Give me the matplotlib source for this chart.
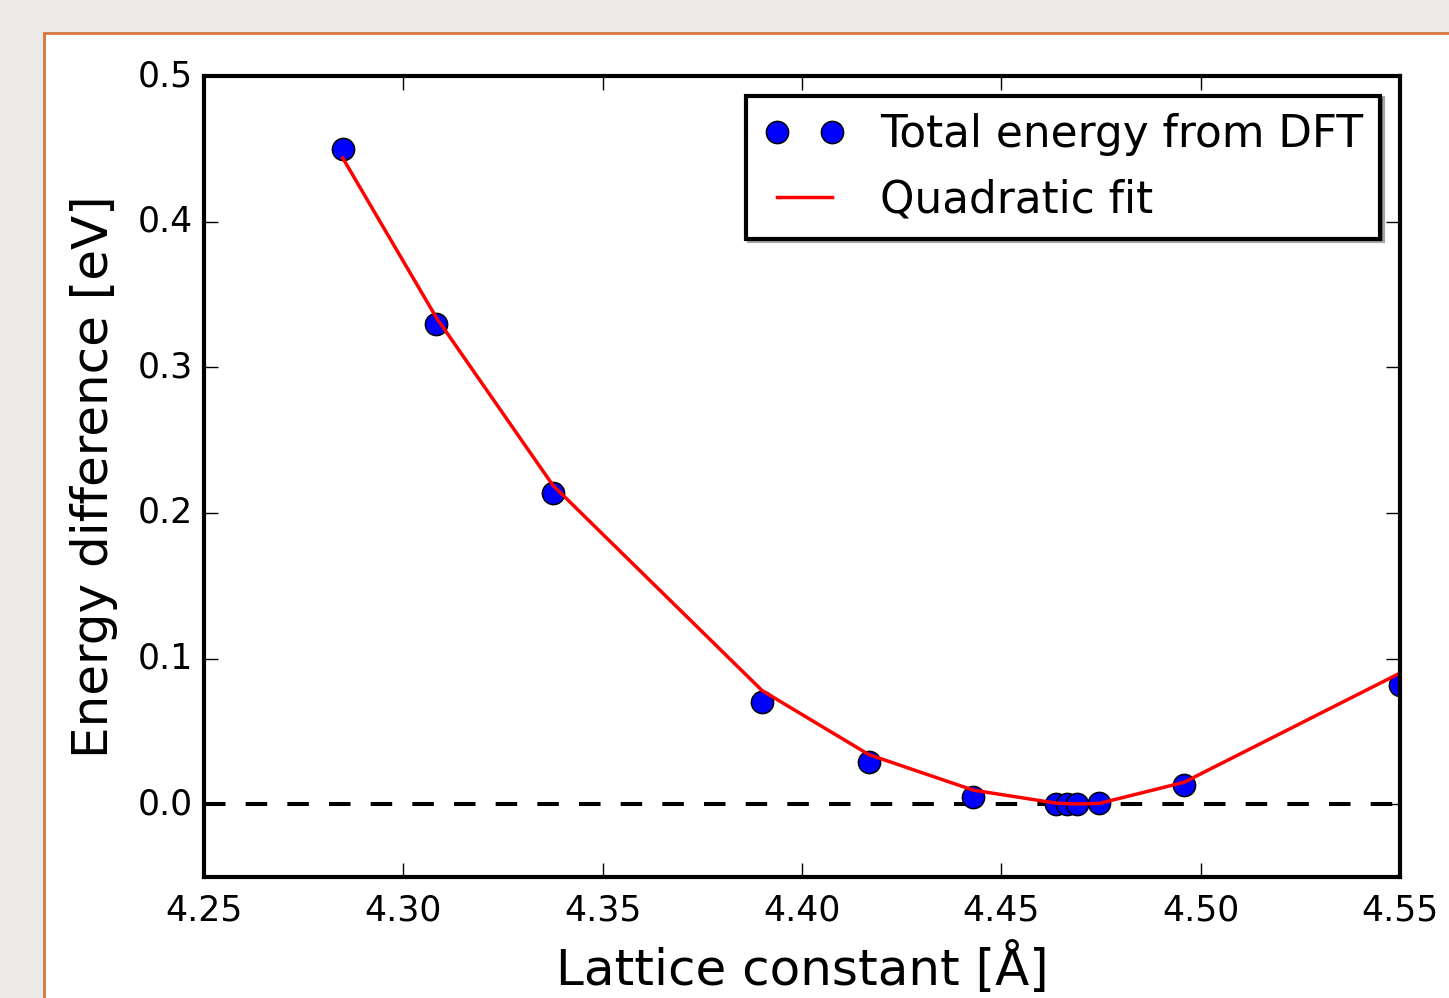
import matplotlib
matplotlib.use('Agg')
import matplotlib.pyplot as plt
from matplotlib.patches import Rectangle

# lattice constants [A] and DFT energies [eV]
lattice = [4.2848, 4.3083, 4.3375, 4.3900, 4.4168, 4.4430, 4.4638, 4.4665, 4.4690, 4.4745, 4.4958, 4.5500]
energy_dft = [0.4499, 0.3297, 0.2136, 0.0700, 0.0288, 0.0048, 0.0000, 0.0000, 0.0000, 0.0007, 0.0130, 0.0817]
energy_fit = [0.4437, 0.3340, 0.2190, 0.0780, 0.0340, 0.0096, 0.0007, 0.0004, 0.0002, 0.0005, 0.0150, 0.0900]

XTICKS = [4.25, 4.30, 4.35, 4.40, 4.45, 4.50, 4.55]
YTICKS = [0.0, 0.1, 0.2, 0.3, 0.4, 0.5]

plt.style.use('classic')
fig = plt.figure(figsize=(14.49, 9.98), dpi=100, facecolor='#ebeae8')
fig.patches.append(Rectangle((44 / 1449, -0.1), 1.2, 1 - 33 / 998 + 0.1,
                             transform=fig.transFigure, facecolor='white',
                             edgecolor='#d9743d', linewidth=2, zorder=-10))

ax = fig.add_axes([204 / 1449, 1 - 877 / 998, 1196 / 1449, 801 / 998])
ax.axhline(0.0, color='black', linestyle='--', linewidth=2.9, dashes=(15.5, 14.5))
ax.plot(lattice, energy_dft, 'o', color='blue', markersize=16, markeredgecolor='black',
        markeredgewidth=1.1, label='Total energy from DFT')
ax.plot(lattice, energy_fit, '-', color='red', linewidth=2.5, label='Quadratic fit')

ax.set_xlim(4.25, 4.55)
ax.set_ylim(-0.05, 0.5)
ax.set_xticks(XTICKS)
ax.set_yticks(YTICKS)
ax.set_xticklabels(['%.2f' % t for t in XTICKS])
ax.set_yticklabels(['%.1f' % t for t in YTICKS])
ax.tick_params(labelsize=25, direction='in', length=10, width=1, top=True, right=True)
ax.tick_params(axis='x', pad=12)
ax.tick_params(axis='y', pad=8)
for sp in ax.spines.values():
    sp.set_linewidth(3)

ax.set_xlabel('Lattice constant [Å]', fontsize=36, labelpad=10)
ax.set_ylabel('Energy difference [eV]', fontsize=36, labelpad=14)

leg = ax.legend(loc='upper right', fontsize=31.5, numpoints=2, shadow=True, fancybox=False,
                borderaxespad=0.45, handlelength=1.85)
leg.get_frame().set_linewidth(3)

fig.savefig('out.png', dpi=100, facecolor=fig.get_facecolor())
